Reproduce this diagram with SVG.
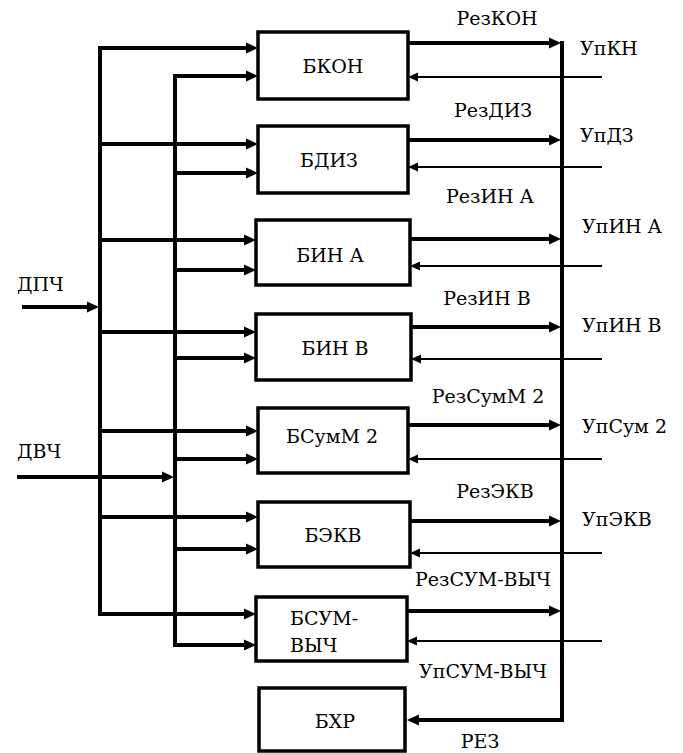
<svg xmlns="http://www.w3.org/2000/svg" width="683" height="753" viewBox="0 0 683 753">
<style>
.box{fill:#fff;stroke:#000;stroke-width:3.5}
.thick{fill:none;stroke:#000;stroke-width:4}
.thin{fill:none;stroke:#000;stroke-width:2}
.t{font-family:"DejaVu Serif","Liberation Serif",serif;font-size:19px;fill:#000}
.c{text-anchor:middle}
</style>
<defs>
<marker id="ah" markerUnits="userSpaceOnUse" markerWidth="13" markerHeight="12" refX="0" refY="6" orient="auto" overflow="visible">
<path d="M0,0.5 L12,6 L0,11.5 z" fill="#000"/>
</marker>
<marker id="ahs" markerUnits="userSpaceOnUse" markerWidth="11" markerHeight="10" refX="0" refY="5" orient="auto" overflow="visible">
<path d="M0,0.5 L10,5 L0,9.5 z" fill="#000"/>
</marker>
</defs>
<rect width="683" height="753" fill="#fff"/>
<g id="connectors">
<path class="thick" d="M100,48 V614 H244" marker-end="url(#ah)"/>
<path class="thick" d="M98,48 H246" marker-end="url(#ah)"/>
<path class="thick" d="M100,144 H246" marker-end="url(#ah)"/>
<path class="thick" d="M100,240 H244" marker-end="url(#ah)"/>
<path class="thick" d="M100,332 H244" marker-end="url(#ah)"/>
<path class="thick" d="M100,431 H246" marker-end="url(#ah)"/>
<path class="thick" d="M100,517 H246" marker-end="url(#ah)"/>
<path class="thick" d="M175,76 V645 H244" marker-end="url(#ah)"/>
<path class="thick" d="M173,76 H246" marker-end="url(#ah)"/>
<path class="thick" d="M175,173 H246" marker-end="url(#ah)"/>
<path class="thick" d="M175,270 H244" marker-end="url(#ah)"/>
<path class="thick" d="M175,358 H244" marker-end="url(#ah)"/>
<path class="thick" d="M175,459 H246" marker-end="url(#ah)"/>
<path class="thick" d="M175,549 H246" marker-end="url(#ah)"/>
<path class="thick" d="M22,307 H87" marker-end="url(#ah)"/>
<path class="thick" d="M17,477 H162" marker-end="url(#ah)"/>
<path class="thick" d="M408,43 H549" marker-end="url(#ah)"/>
<path class="thick" d="M408,140 H549" marker-end="url(#ah)"/>
<path class="thick" d="M410,239 H549" marker-end="url(#ah)"/>
<path class="thick" d="M411,327 H549" marker-end="url(#ah)"/>
<path class="thick" d="M408,425 H549" marker-end="url(#ah)"/>
<path class="thick" d="M410,521 H549" marker-end="url(#ah)"/>
<path class="thick" d="M407,611 H549" marker-end="url(#ah)"/>
<path class="thick" d="M562,41 V720 H419" marker-end="url(#ah)"/>
<path class="thin" d="M602,77 H418" marker-end="url(#ahs)"/>
<path class="thin" d="M602,167 H418" marker-end="url(#ahs)"/>
<path class="thin" d="M602,266 H420" marker-end="url(#ahs)"/>
<path class="thin" d="M602,359 H421" marker-end="url(#ahs)"/>
<path class="thin" d="M602,459 H418" marker-end="url(#ahs)"/>
<path class="thin" d="M602,553 H420" marker-end="url(#ahs)"/>
<path class="thin" d="M602,641 H417" marker-end="url(#ahs)"/>
</g>
<g id="n-bkon"><rect class="box" x="258" y="32" width="150" height="67"/><text class="t c" x="333" y="73">БКОН</text></g>
<g id="n-bdiz"><rect class="box" x="258" y="126" width="150" height="67"/><text class="t c" x="329" y="167">БДИЗ</text></g>
<g id="n-bina"><rect class="box" x="256" y="220" width="154" height="65"/><text class="t c" x="330" y="262">БИН А</text></g>
<g id="n-binb"><rect class="box" x="256" y="314" width="155" height="66"/><text class="t c" x="335" y="355">БИН В</text></g>
<g id="n-bsumm2"><rect class="box" x="258" y="408" width="150" height="65"/><text class="t c" x="332" y="443">БСумМ 2</text></g>
<g id="n-bekv"><rect class="box" x="258" y="502" width="152" height="65"/><text class="t c" x="333" y="542">БЭКВ</text></g>
<g id="n-bsumvych"><rect class="box" x="256" y="597" width="151" height="64"/><text class="t" x="290" y="625">БСУМ-</text><text class="t" x="290" y="652">ВЫЧ</text></g>
<g id="n-bhr"><rect class="box" x="259" y="688" width="146" height="63"/><text class="t c" x="335" y="728">БХР</text></g>
<g id="labels">
<text class="t" x="17" y="291">ДПЧ</text>
<text class="t" x="17" y="458">ДВЧ</text>
<text class="t c" x="497" y="25">РезКОН</text>
<text class="t" x="580" y="55">УпКН</text>
<text class="t c" x="493" y="117">РезДИЗ</text>
<text class="t" x="580" y="142">УпДЗ</text>
<text class="t c" x="490" y="203">РезИН А</text>
<text class="t" x="582" y="233">УпИН А</text>
<text class="t c" x="487" y="305">РезИН В</text>
<text class="t" x="582" y="332">УпИН В</text>
<text class="t c" x="488" y="403">РезСумМ 2</text>
<text class="t" x="582" y="433">УпСум 2</text>
<text class="t c" x="495" y="498">РезЭКВ</text>
<text class="t" x="582" y="526">УпЭКВ</text>
<text class="t c" x="483" y="586">РезСУМ-ВЫЧ</text>
<text class="t c" x="483" y="678">УпСУМ-ВЫЧ</text>
<text class="t c" x="480" y="748">РЕЗ</text>
</g>
</svg>
